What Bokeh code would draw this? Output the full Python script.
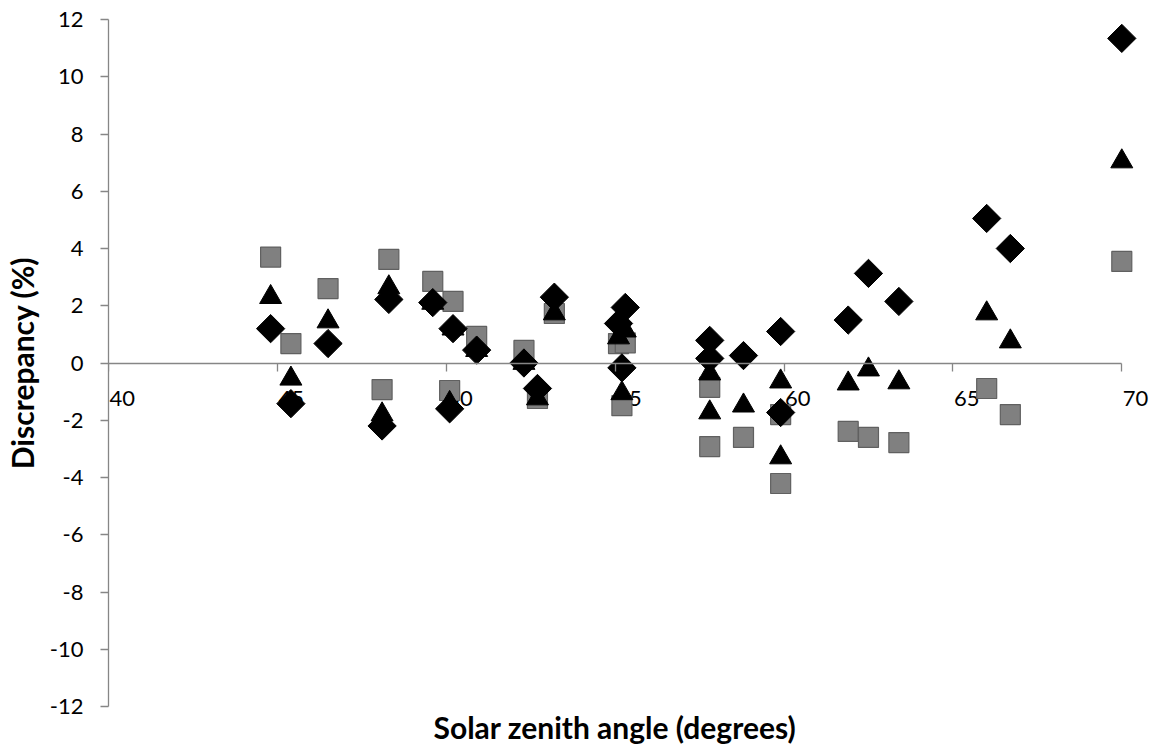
import math
from bokeh.plotting import figure
from bokeh.models import Range1d, LinearAxis, FixedTicker, Title, CustomLabelingPolicy
from bokeh.core.properties import value
from bokeh.embed import file_html
from bokeh.resources import INLINE

# ---- data ----
zenith = [44.8, 45.4, 46.5, 48.1, 48.3, 49.6, 50.1, 50.2, 50.9, 52.3, 52.7, 53.2,
          55.1, 55.3, 55.2, 57.8, 57.8, 58.8, 59.9, 59.9, 61.9, 62.5, 63.4,
          66.0, 66.7, 70.0]
diamond_y = [1.2, -1.42, 0.68, -2.2, 2.22, 2.11, -1.6, 1.2, 0.45, 0.0, -0.89, 2.3,
             1.38, 1.94, -0.17, 0.79, 0.16, 0.26, 1.1, -1.73, 1.5, 3.13, 2.15,
             5.05, 4.0, 11.34]
triangle_y = [2.3, -0.55, 1.45, -1.8, 2.64, 2.1, -1.4, 1.2, 0.45, 0.0, -1.24, 1.73,
              0.89, 1.13, -1.06, -0.37, -1.73, -1.49, -0.65, -3.3, -0.72, -0.23, -0.68,
              1.73, 0.75, 7.04]
square_y = [3.7, 0.68, 2.6, -0.93, 3.62, 2.85, -0.96, 2.15, 0.93, 0.44, -1.24, 1.73,
            0.68, 0.7, -1.49, -0.85, -2.92, -2.6, -1.8, -4.21, -2.39, -2.6, -2.78,
            -0.89, -1.8, 3.55]
x_ticks = [40, 45, 50, 55, 60, 65, 70]
y_ticks = [-12, -10, -8, -6, -4, -2, 0, 2, 4, 6, 8, 10, 12]
x_title = "Solar zenith angle (degrees)"
y_title = "Discrepancy (%)"

FONT = "Lato"
AXIS_GREY = "#868686"

p = figure(width=1158, height=745, x_range=Range1d(40, 70.85), y_range=Range1d(-12, 12),
           output_backend="svg", toolbar_location=None,
           x_axis_location=None, y_axis_location=None,
           min_border_left=107, min_border_right=8, min_border_top=19, min_border_bottom=39)
p.outline_line_color = None
p.grid.grid_line_color = None
p.background_fill_color = "white"
p.border_fill_color = "white"

yaxis = LinearAxis(ticker=FixedTicker(ticks=y_ticks), bounds=(y_ticks[0], y_ticks[-1]))
yaxis.major_label_overrides = {t: str(t) for t in y_ticks}
yaxis.axis_line_color = AXIS_GREY
yaxis.axis_line_width = 1.3
yaxis.major_tick_line_color = AXIS_GREY
yaxis.major_tick_line_width = 1.3
yaxis.major_tick_out = 8
yaxis.major_tick_in = 0
yaxis.minor_tick_out = 0
yaxis.minor_tick_in = 0
yaxis.major_label_text_font = FONT
yaxis.major_label_text_font_size = "22px"
yaxis.major_label_text_color = "black"
yaxis.major_label_standoff = 17
yaxis.axis_label = y_title
yaxis.axis_label_text_font = FONT
yaxis.axis_label_text_font_style = "bold"
yaxis.axis_label_text_font_size = "30px"
yaxis.axis_label_text_color = "black"
yaxis.axis_label_standoff = 7
p.add_layout(yaxis, "left")

xaxis = LinearAxis(ticker=FixedTicker(ticks=x_ticks), fixed_location=0,
                   bounds=(x_ticks[0], x_ticks[-1]),
                   major_label_policy=CustomLabelingPolicy(code="return [];"))
xaxis.axis_line_color = AXIS_GREY
xaxis.axis_line_width = 1.3
xaxis.major_tick_line_color = AXIS_GREY
xaxis.major_tick_line_width = 1.3
xaxis.major_tick_out = 8
xaxis.major_tick_in = 0
xaxis.minor_tick_out = 0
xaxis.minor_tick_in = 0
xaxis.major_label_standoff = 0
p.add_layout(xaxis, "below")

p.add_layout(Title(text=x_title, align="left", offset=325, text_font=FONT,
                   text_font_style="bold", text_font_size="30px", text_color="black",
                   standoff=0), "below")

# x tick labels (Excel style: start at the tick, below the zero line)
p.text(x=x_ticks, y=[0] * len(x_ticks), text=[str(t) for t in x_ticks],
       text_align="left", text_baseline="middle", x_offset=1, y_offset=35,
       text_font=value(FONT), text_font_size="22px", text_color="black")

p.scatter(zenith, square_y, marker="square", size=20, fill_color="#808080",
          line_color="#606060", line_width=1.2)
p.scatter(zenith, diamond_y, marker="square", angle=math.pi / 4, size=20,
          fill_color="black", line_color="black")
p.scatter(zenith, triangle_y, marker="triangle", size=22, fill_color="black",
          line_color="black")

open("out.html", "w").write(file_html(p, INLINE))
